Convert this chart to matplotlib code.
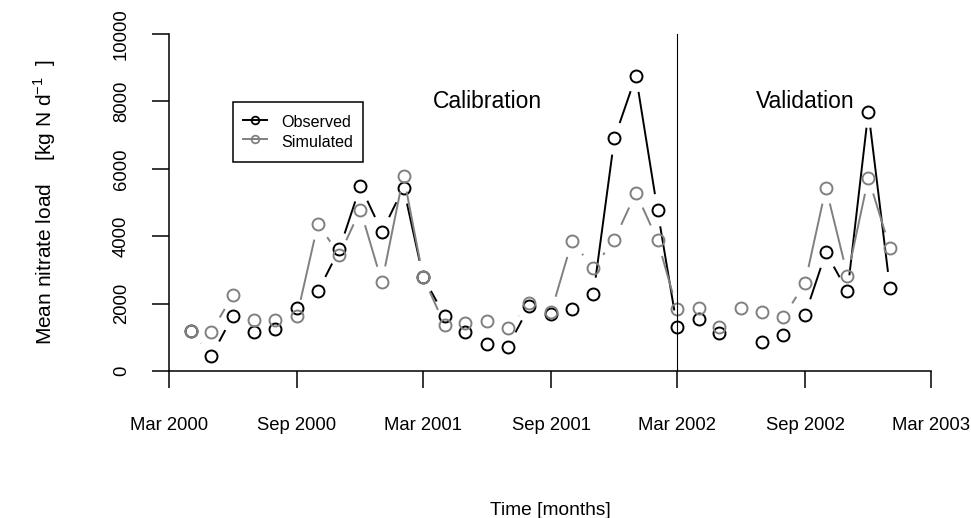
import numpy as np
import pandas as pd
import matplotlib
matplotlib.use("Agg")
import matplotlib.pyplot as plt
import matplotlib.dates as mdates
from matplotlib.lines import Line2D

plt.rcParams['font.family'] = ['Liberation Sans', 'DejaVu Sans']
plt.rcParams['mathtext.fontset'] = 'custom'
plt.rcParams['mathtext.rm'] = 'Liberation Sans'

# monthly loads, Apr 2000 - Jan 2003
months = pd.date_range("2000-04-01", "2003-01-01", freq="MS")
observed = [1200, 450, 1640, 1150, 1240, 1870, 2360, 3620, 5490, 4130, 5440, 2800,
            1640, 1150, 800, 720, 1930, 1700, 1830, 2290, 6900, 8760, 4770, 1320,
            1540, 1120, np.nan, 870, 1070, 1670, 3520, 2360, 7700, 2460]
simulated = [1200, 1170, 2260, 1520, 1520, 1640, 4370, 3440, 4790, 2630, 5800, 2800,
             1370, 1420, 1470, 1270, 2010, 1740, 3850, 3060, 3900, 5290, 3880, 1850,
             1860, 1300, 1860, 1740, 1600, 2610, 5440, 2830, 5730, 3650]

tick_dates = ["2000-03-01", "2000-09-01", "2001-03-01", "2001-09-01",
              "2002-03-01", "2002-09-01", "2003-03-01"]
tick_labels = ["Mar 2000", "Sep 2000", "Mar 2001", "Sep 2001",
               "Mar 2002", "Sep 2002", "Mar 2003"]
y_ticks = [0, 2000, 4000, 6000, 8000, 10000]
split_date = "2002-03-01"


def dnum(s):
    return mdates.date2num(pd.Timestamp(s))


def plot_b(ax, x, y, color, gap=16.3):
    # points joined by lines that stop short of each symbol
    pts = ax.transData.transform(np.column_stack([x, y]))
    inv = ax.transData.inverted()
    for i in range(len(pts) - 1):
        p0, p1 = pts[i], pts[i + 1]
        if not (np.all(np.isfinite(p0)) and np.all(np.isfinite(p1))):
            continue
        d = np.hypot(*(p1 - p0))
        if d <= 2 * gap:
            continue
        f = gap / d
        seg = inv.transform([p0 + f * (p1 - p0), p1 - f * (p1 - p0)])
        ax.plot(seg[:, 0], seg[:, 1], color=color, lw=1.4,
                solid_capstyle='butt', clip_on=False)
    ax.plot(x, y, ls='none', marker='o', ms=8.6, mfc='none', mec=color,
            mew=1.4, clip_on=False)


W, H = 971, 518
fig = plt.figure(figsize=(W / 100, H / 100), dpi=100)
ax = fig.add_axes([169 / W, 1 - 371 / H, (931 - 169) / W, (371 - 34) / H])
ax.set_xlim(dnum(tick_dates[0]), dnum(tick_dates[-1]))
ax.set_ylim(0, 10000)

x = mdates.date2num(months)
plot_b(ax, x, observed, 'black')
plot_b(ax, x, simulated, '#808080')

ax.axvline(dnum(split_date), color='black', lw=0.8)

ax.text(dnum("2001-06-01"), 8000, "Calibration", ha='center', va='center', fontsize=16.5)
ax.text(dnum("2002-09-01"), 8000, "Validation", ha='center', va='center', fontsize=16.5)

for s in ['top', 'right']:
    ax.spines[s].set_visible(False)
for s in ['left', 'bottom']:
    ax.spines[s].set_linewidth(1.1)

ax.set_xticks([dnum(d) for d in tick_dates])
ax.set_xticklabels(tick_labels)
ax.set_yticks(y_ticks)
ax.set_yticklabels([str(v) for v in y_ticks], rotation=90, va='center')
ax.tick_params(axis='both', direction='out', length=12, width=1.1, labelsize=13.3)
ax.tick_params(axis='x', pad=21)
ax.tick_params(axis='y', pad=16)

ax.set_xlabel("Time [months]", fontsize=13.8, labelpad=49)
ax.set_ylabel(r"Mean nitrate load    [kg N d$^{\mathregular{-1}}$  ]", fontsize=15, labelpad=40)

handles = [
    Line2D([], [], color='black', marker='o', ms=5.5, mfc='none', mew=1.3, lw=1.4),
    Line2D([], [], color='#808080', marker='o', ms=5.5, mfc='none', mew=1.3, lw=1.4),
]
leg = ax.legend(handles, ["Observed", "Simulated"], loc='upper left',
                bbox_to_anchor=(dnum("2000-06-01"), 7990), bbox_transform=ax.transData,
                borderaxespad=0, fontsize=11.6, handlelength=1.45, handletextpad=0.9,
                handleheight=1.5, labelspacing=0.0, borderpad=0.64, fancybox=False,
                framealpha=1, edgecolor='black')
leg.get_frame().set_linewidth(1.1)

fig.savefig("out.png", dpi=100)
